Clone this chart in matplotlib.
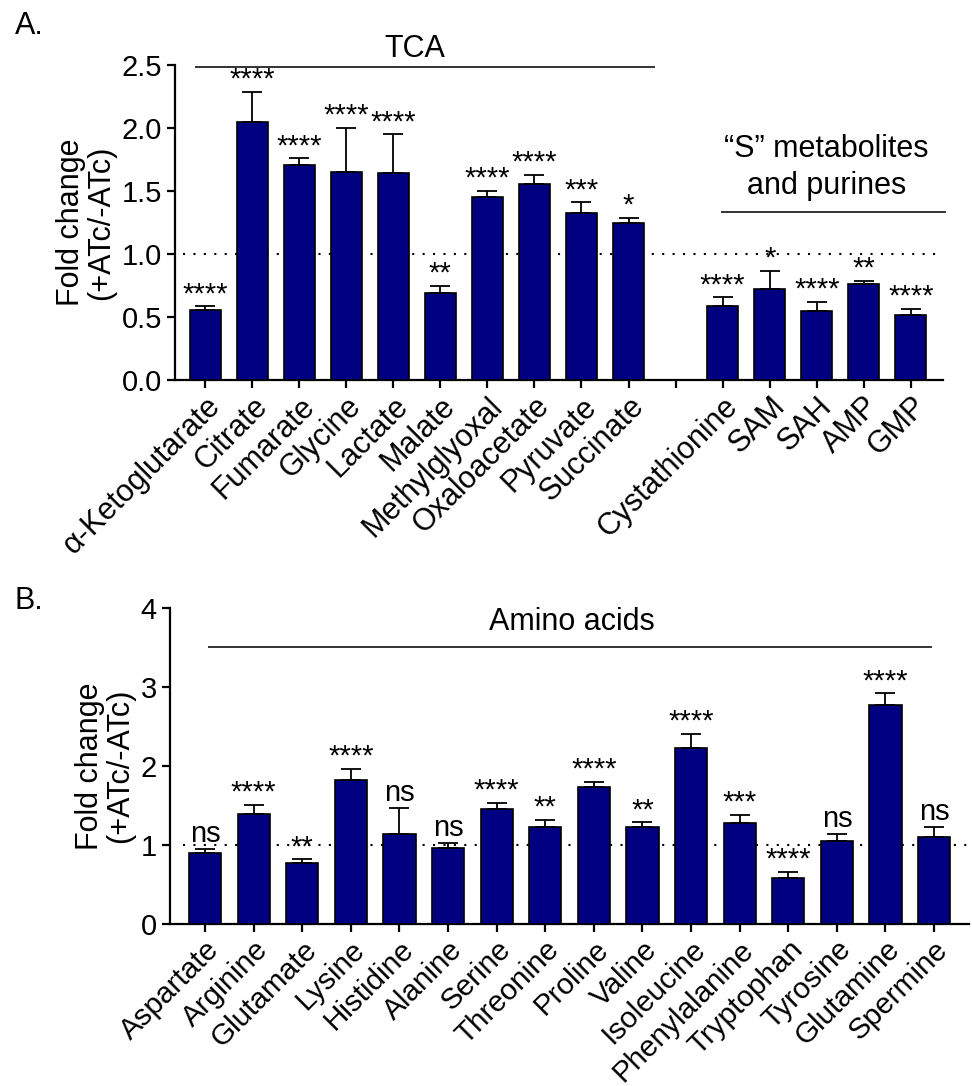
import numpy as np
import matplotlib.pyplot as plt

plt.rcParams['font.family'] = ['Liberation Sans', 'DejaVu Sans']

# panel A data
tca_names = ['α-Ketoglutarate', 'Citrate', 'Fumarate', 'Glycine', 'Lactate', 'Malate',
             'Methylglyoxal', 'Oxaloacetate', 'Pyruvate', 'Succinate']
tca_vals = [0.556, 2.05, 1.71, 1.65, 1.64, 0.69, 1.45, 1.555, 1.33, 1.245]
tca_err = [0.03, 0.24, 0.05, 0.35, 0.31, 0.06, 0.05, 0.075, 0.08, 0.04]
tca_sig = ['****', '****', '****', '****', '****', '**', '****', '****', '***', '*']

s_names = ['Cystathionine', 'SAM', 'SAH', 'AMP', 'GMP']
s_vals = [0.587, 0.72, 0.55, 0.76, 0.515]
s_err = [0.07, 0.145, 0.07, 0.025, 0.05]
s_sig = ['****', '*', '****', '**', '****']

# panel B data
aa_names = ['Aspartate', 'Arginine', 'Glutamate', 'Lysine', 'Histidine', 'Alanine', 'Serine',
            'Threonine', 'Proline', 'Valine', 'Isoleucine', 'Phenylalanine', 'Tryptophan',
            'Tyrosine', 'Glutamine', 'Spermine']
aa_vals = [0.90, 1.39, 0.77, 1.82, 1.14, 0.96, 1.455, 1.23, 1.74, 1.23, 2.23, 1.28, 0.58,
           1.05, 2.78, 1.10]
aa_err = [0.05, 0.12, 0.05, 0.15, 0.33, 0.07, 0.085, 0.09, 0.06, 0.06, 0.18, 0.10, 0.08,
          0.09, 0.14, 0.13]
aa_sig = ['ns', '****', '**', '****', 'ns', 'ns', '****', '**', '****', '**', '****', '***',
          '****', 'ns', '****', 'ns']

navy = '#000080'
fs = 21


def draw_bars(ax, x, vals, err, sig):
    ax.bar(x, vals, width=0.66, color=navy, edgecolor='black', linewidth=1.2, zorder=3)
    ax.errorbar(x, vals, yerr=[np.zeros(len(vals)), err], fmt='none', ecolor='black',
                elinewidth=1.3, capsize=7, capthick=1.3, zorder=2)
    for xi, v, e, s in zip(x, vals, err, sig):
        off = 5 if s == 'ns' else 3
        ax.annotate(s, (xi, v + e), xytext=(0, off), textcoords='offset points',
                    ha='center', va='baseline', fontsize=fs)


def style(ax, xsize):
    for sp in ['top', 'right']:
        ax.spines[sp].set_visible(False)
    for sp in ['left', 'bottom']:
        ax.spines[sp].set_linewidth(1.6)
    ax.tick_params(axis='both', width=1.6, length=6, labelsize=fs)
    ax.tick_params(axis='x', labelsize=xsize, pad=2)
    ax.set_ylabel('Fold change\n(+ATc/-ATc)', fontsize=fs + 1, labelpad=4, linespacing=1.0)


fig = plt.figure(figsize=(9.72, 10.86), dpi=100)

# ---- A ----
axA = fig.add_axes([0.180, 0.650, 0.790, 0.290])
xA = np.r_[np.arange(len(tca_names)), np.arange(len(s_names)) + len(tca_names) + 1]
draw_bars(axA, xA, tca_vals + s_vals, tca_err + s_err, tca_sig + s_sig)
axA.set_xlim(-0.64, xA[-1] + 0.68)
axA.set_ylim(0, 2.5)
axA.set_yticks(np.arange(0, 2.51, 0.5))
axA.set_yticklabels(['%.1f' % t for t in np.arange(0, 2.51, 0.5)])
axA.set_xticks(np.arange(xA[-1] + 1))
axA.set_xticklabels(tca_names + [''] + s_names, rotation=45, ha='right',
                    rotation_mode='anchor')
axA.plot([-0.47, xA[-1] + 0.6], [1, 1], ls=(0, (1, 4)), color='black', lw=1.5,
         zorder=1, clip_on=False)
style(axA, fs + 1)
axA.plot([-0.2, len(tca_names) - 1 + 0.55], [2.485, 2.485], color='#333333', lw=1.4,
         clip_on=False)
axA.text(4.46, 2.51, 'TCA', ha='center', va='bottom', fontsize=fs + 1)
axA.plot([xA[len(tca_names)] - 0.02, xA[-1] + 0.72], [1.333, 1.333], color='#333333',
         lw=1.4, clip_on=False)
axA.text(13.2, 1.69, '\u201cS\u201d metabolites\nand purines', ha='center', va='center',
         fontsize=fs + 1, linespacing=1.3)

# ---- B ----
axB = fig.add_axes([0.175, 0.149, 0.822, 0.291])
xB = np.arange(len(aa_names))
draw_bars(axB, xB, aa_vals, aa_err, aa_sig)
axB.set_xlim(-0.72, xB[-1] + 0.72)
axB.set_ylim(0, 4)
axB.set_yticks([0, 1, 2, 3, 4])
axB.set_xticks(xB)
axB.set_xticklabels(aa_names, rotation=45, ha='right', rotation_mode='anchor')
axB.plot([-0.45, xB[-1] + 0.7], [1, 1], ls=(0, (1, 4)), color='black', lw=1.5,
         zorder=1, clip_on=False)
style(axB, fs + 0.3)
axB.plot([0.08, 14.94], [3.51, 3.51], color='#333333', lw=1.4, clip_on=False)
axB.text(7.54, 3.64, 'Amino acids', ha='center', va='bottom', fontsize=fs + 1)

fig.text(0.015, 0.99, 'A.', fontsize=fs + 1, ha='left', va='top')
fig.text(0.015, 0.460, 'B.', fontsize=fs + 1, ha='left', va='top')

fig.savefig('out.png', dpi=100)
